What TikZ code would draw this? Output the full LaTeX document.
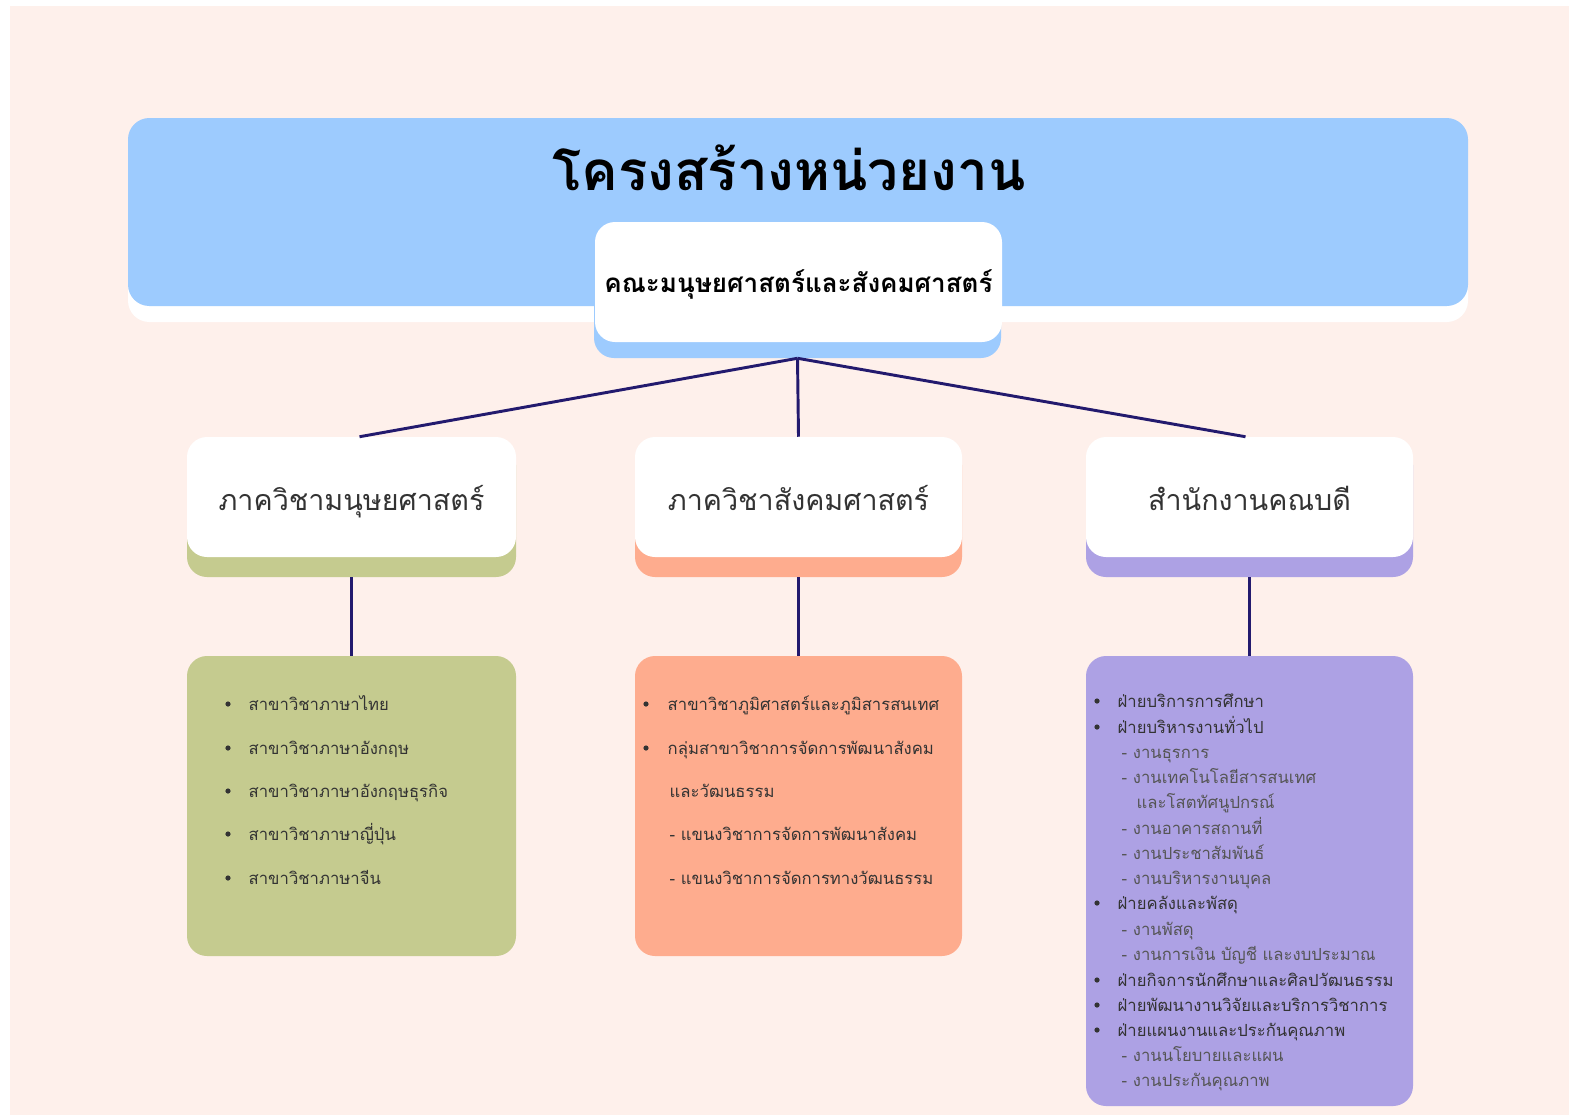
\documentclass[tikz,border=0pt]{standalone}
\usepackage{fontspec}
\newfontfamily\thaifont[Script=Thai]{Loma}
\usetikzlibrary{positioning}

\definecolor{bgpink}{HTML}{FEF0EB}
\definecolor{bannerblue}{HTML}{9DCBFE}
\definecolor{linknavy}{HTML}{231A6E}
\definecolor{humgreen}{HTML}{C5CB8F}
\definecolor{socsalmon}{HTML}{FEAC8E}
\definecolor{offpurple}{HTML}{ADA1E4}
\definecolor{textdark}{HTML}{333333}
\definecolor{textsub}{HTML}{555555}

\tikzset{
  card/.style={rounded corners=15pt, inner sep=0pt, minimum width=246.75pt},
  link/.style={draw=linknavy, line width=2.2pt},
  deptext/.style={font=\thaifont\fontsize{21.5}{25}\selectfont, text=textdark, text height=22pt, text depth=2pt},
  item/.style={anchor=base west, xshift=-3pt, yshift=-4.5pt, font=\thaifont\fontsize{12.5}{15}\selectfont, text=textdark},
  subitem/.style={item, text=textsub},
  dot/.style={fill=textdark},
}

\begin{document}
\begin{tikzpicture}[x=0.75pt,y=0.75pt,yscale=-1,xscale=1]
\useasboundingbox (0,0) rectangle (1569,1115);
\fill[white] (0,0) rectangle (1569,1115);
\fill[bgpink] (10,6) rectangle (1569,1115);

% Title banner
\fill[white, rounded corners=16pt] (128,135) rectangle (1468,322);
\fill[bannerblue, rounded corners=16pt] (128,118) rectangle (1468,306);
\node[font=\thaifont\bfseries\fontsize{41}{49}\selectfont, text=black] (title) at (789,168) {โครงสร้างหน่วยงาน};

% Faculty box
\node[card, fill=bannerblue, minimum width=305.25pt, minimum height=96pt] (facbase) at (797.5,294) {};
\node[card, fill=white, minimum width=305.25pt, minimum height=90pt, font=\thaifont\bfseries\fontsize{19.5}{23}\selectfont, text=black, text height=18pt, text depth=2pt] (fac) at (798.5,282) {คณะมนุษยศาสตร์และสังคมศาสตร์};

% Department cards
\node[card, fill=humgreen, minimum height=99pt] (humbase) at (351.5,511) {};
\node[card, fill=white, minimum height=90pt, deptext] (hum) at (351.5,497) {ภาควิชามนุษยศาสตร์};
\node[card, fill=socsalmon, minimum width=245.25pt, minimum height=99pt] (socbase) at (798.5,511) {};
\node[card, fill=white, minimum width=245.25pt, minimum height=90pt, deptext] (soc) at (798.5,497) {ภาควิชาสังคมศาสตร์};
\node[card, fill=offpurple, minimum width=245.25pt, minimum height=99pt] (offbase) at (1249.5,511) {};
\node[card, fill=white, minimum width=245.25pt, minimum height=90pt, deptext] (off) at (1249.5,497) {สำนักงานคณบดี};

% List boxes
\node[card, fill=humgreen, minimum height=225pt] (humlist) at (351.5,806) {};
\node[card, fill=socsalmon, minimum width=245.25pt, minimum height=225pt] (soclist) at (798.5,806) {};
\node[card, fill=offpurple, minimum width=245.25pt, minimum height=337.5pt] (offlist) at (1249.5,881) {};

% Connection
\draw[link] (facbase.south) -- ([xshift=6pt]hum.north);
\draw[link] (facbase.south) -- (soc.north);
\draw[link] (facbase.south) -- ([xshift=-3pt]off.north);
\draw[link] (humbase.south) -- (humlist.north);
\draw[link] (socbase.south) -- (soclist.north);
\draw[link] (offbase.south) -- (offlist.north);

% Humanities list
\fill[dot] (228,704) circle (2.6);
\node[item] (hum1) at (248,704) {สาขาวิชาภาษาไทย};
\fill[dot] (228,748) circle (2.6);
\node[item] (hum2) at (248,748) {สาขาวิชาภาษาอังกฤษ};
\fill[dot] (228,791) circle (2.6);
\node[item] (hum3) at (248,791) {สาขาวิชาภาษาอังกฤษธุรกิจ};
\fill[dot] (228,834) circle (2.6);
\node[item] (hum4) at (248,834) {สาขาวิชาภาษาญี่ปุ่น};
\fill[dot] (228,878) circle (2.6);
\node[item] (hum5) at (248,878) {สาขาวิชาภาษาจีน};

% Social sciences list
\fill[dot] (646,704) circle (2.6);
\node[item] (soc1) at (667,704) {สาขาวิชาภูมิศาสตร์และภูมิสารสนเทศ};
\fill[dot] (646,748) circle (2.6);
\node[item] (soc2) at (667,748) {กลุ่มสาขาวิชาการจัดการพัฒนาสังคม};
\node[item] (soc3) at (669,791) {และวัฒนธรรม};
\node[item] (soc4) at (669,834) {- แขนงวิชาการจัดการพัฒนาสังคม};
\node[item] (soc5) at (669,878) {- แขนงวิชาการจัดการทางวัฒนธรรม};

% Dean office list
\fill[dot] (1097,701) circle (2.6);
\node[item] (off1) at (1117,701) {ฝ่ายบริการการศึกษา};
\fill[dot] (1097,727) circle (2.6);
\node[item] (off2) at (1117,727) {ฝ่ายบริหารงานทั่วไป};
\node[subitem] (off3) at (1121,752) {- งานธุรการ};
\node[subitem] (off4) at (1121,777) {- งานเทคโนโลยีสารสนเทศ};
\node[subitem] (off5) at (1136,802) {และโสตทัศนูปกรณ์};
\node[subitem] (off6) at (1121,828) {- งานอาคารสถานที่};
\node[subitem] (off7) at (1121,853) {- งานประชาสัมพันธ์};
\node[subitem] (off8) at (1121,878) {- งานบริหารงานบุคล};
\fill[dot] (1097,903) circle (2.6);
\node[item] (off9) at (1117,903) {ฝ่ายคลังและพัสดุ};
\node[subitem] (off10) at (1121,929) {- งานพัสดุ};
\node[subitem] (off11) at (1121,954) {- งานการเงิน บัญชี และงบประมาณ};
\fill[dot] (1097,980) circle (2.6);
\node[item] (off12) at (1117,980) {ฝ่ายกิจการนักศึกษาและศิลปวัฒนธรรม};
\fill[dot] (1097,1005) circle (2.6);
\node[item] (off13) at (1117,1005) {ฝ่ายพัฒนางานวิจัยและบริการวิชาการ};
\fill[dot] (1097,1030) circle (2.6);
\node[item] (off14) at (1117,1030) {ฝ่ายแผนงานและประกันคุณภาพ};
\node[subitem] (off15) at (1121,1055) {- งานนโยบายและแผน};
\node[subitem] (off16) at (1121,1080) {- งานประกันคุณภาพ};

\end{tikzpicture}
\end{document}
